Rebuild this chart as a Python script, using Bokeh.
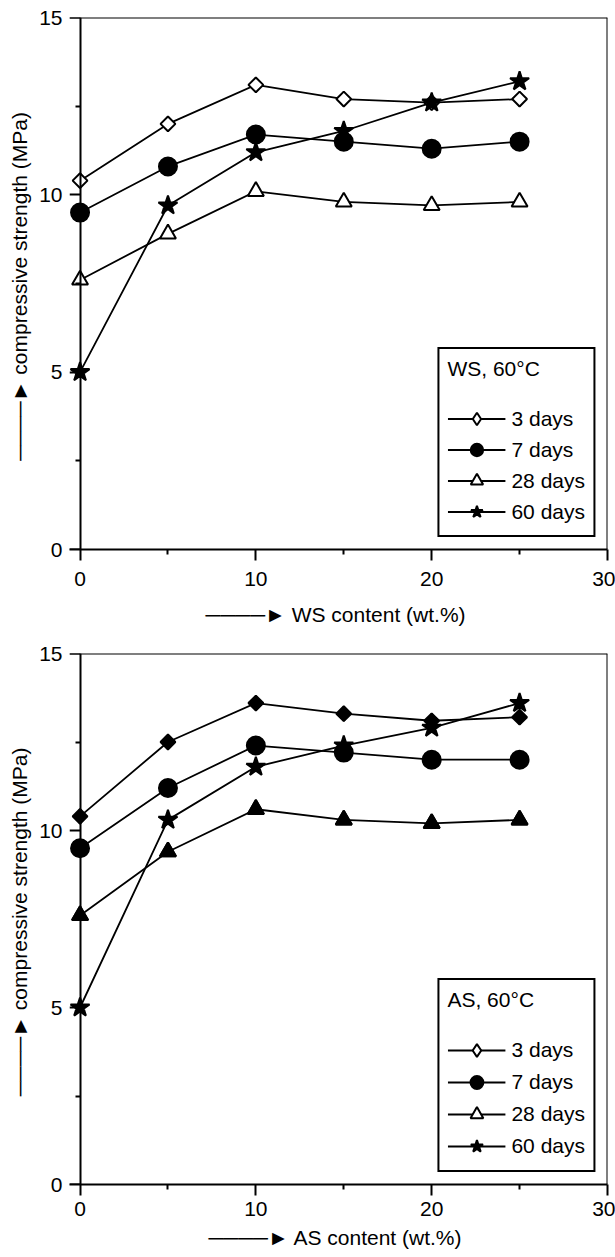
import math
from bokeh.plotting import figure
from bokeh.layouts import column
from bokeh.models import (FixedTicker, Legend, LegendItem, Range1d, Span, LinearAxis,
                          CustomJSTickFormatter)
from bokeh.embed import file_html
from bokeh.resources import INLINE

# ---- data ----
content = [0, 5, 10, 15, 20, 25]
series_labels = ["3 days", "7 days", "28 days", "60 days"]

ws_3d = [10.4, 12.0, 13.1, 12.7, 12.6, 12.7]
ws_7d = [9.5, 10.8, 11.7, 11.5, 11.3, 11.5]
ws_28d = [7.6, 8.9, 10.1, 9.8, 9.7, 9.8]
ws_60d = [5.0, 9.7, 11.2, 11.8, 12.6, 13.2]

as_3d = [10.4, 12.5, 13.6, 13.3, 13.1, 13.2]
as_7d = [9.5, 11.2, 12.4, 12.2, 12.0, 12.0]
as_28d = [7.6, 9.4, 10.6, 10.3, 10.2, 10.3]
as_60d = [5.0, 10.3, 11.8, 12.4, 12.9, 13.6]

x_ticks = [0, 10, 20, 30]
x_minor = [5, 15, 25]
y_ticks = [0, 5, 10, 15]
y_minor = [2.5, 7.5, 12.5]

FONT = "Liberation Sans"
ARROW = "\u2500\u2500\u2500\u2500\u25BA"
X_PAD = 0.6   # small room left of x = 0 so that markers on the axis are not cut

# marker styles: (marker, size, angle, filled)
DIAMOND_LEG = ("diamond", 14, 0, False)          # legend-only diamond (hidden under plotted diamond)
STYLE_OPEN = [("square", 10.5, math.pi / 4, False), ("circle", 18, 0, True),
              ("triangle", 16, 0, False), ("star", 20, 0, True)]
STYLE_SOLID = [("square", 10.5, math.pi / 4, True), ("circle", 18, 0, True),
               ("triangle", 16, 0, True), ("star", 20, 0, True)]


def style_axis(ax):
    ax.axis_line_color = "black"
    ax.axis_line_width = 2
    ax.major_tick_line_color = "black"
    ax.major_tick_line_width = 2
    ax.minor_tick_line_color = "black"
    ax.minor_tick_line_width = 2
    ax.major_tick_in = 0
    ax.major_tick_out = 11
    ax.minor_tick_in = 0
    ax.minor_tick_out = 5
    ax.major_label_text_font = FONT
    ax.major_label_text_font_size = "21px"
    ax.major_label_text_color = "black"
    ax.axis_label_text_font = FONT
    ax.axis_label_text_font_size = "21px"
    ax.axis_label_text_font_style = "normal"
    ax.axis_label_text_color = "black"


def make_panel(series, xlabel, title, plot_styles, width, height, mb_left, mb_right, mb_top, mb_bottom,
               xl_standoff, xa_standoff, pitch):
    p = figure(width=width, height=height, x_range=Range1d(-X_PAD, 30), y_range=Range1d(0, 15),
               output_backend="svg", toolbar_location=None,
               min_border_left=mb_left, min_border_right=mb_right,
               min_border_top=mb_top, min_border_bottom=mb_bottom)
    p.grid.visible = False
    p.background_fill_color = "white"
    p.border_fill_color = "white"
    p.outline_line_color = None

    xa = p.xaxis[0]
    style_axis(xa)
    xa.ticker = FixedTicker(ticks=x_ticks, minor_ticks=x_minor)
    xa.major_label_standoff = xl_standoff
    xa.axis_label = ARROW + "  " + xlabel
    xa.axis_label_standoff = xa_standoff

    # labels of the y axis (in the left panel)
    ya = p.yaxis[0]
    style_axis(ya)
    ya.ticker = FixedTicker(ticks=y_ticks, minor_ticks=y_minor)
    ya.axis_line_color = None
    ya.major_tick_line_color = None
    ya.minor_tick_line_color = None
    ya.major_tick_out = 0
    ya.minor_tick_out = 0
    ya.major_label_standoff = 7
    ya.axis_label = ARROW + "  compressive strength (MPa)"
    ya.axis_label_standoff = 5

    # line and ticks of the y axis, placed at x = 0
    ya2 = LinearAxis(fixed_location=0, ticker=FixedTicker(ticks=y_ticks, minor_ticks=y_minor),
                     formatter=CustomJSTickFormatter(code="return ''"))
    style_axis(ya2)
    p.add_layout(ya2, "left")

    # top and right frame lines
    p.add_layout(Span(location=15, dimension="width", line_color="black", line_width=2))
    p.add_layout(Span(location=30, dimension="height", line_color="black", line_width=2))

    items = []
    for i, (vals, lab, (mk, sz, ang, filled), (lmk, lsz, lang, lfilled)) in enumerate(zip(
            series, series_labels, plot_styles, STYLE_OPEN)):
        lr = p.line(content, vals, line_color="black", line_width=1.8)
        if i == 0:
            mr = p.scatter(content, vals, marker=DIAMOND_LEG[0], size=DIAMOND_LEG[1],
                           fill_color="white", line_color="black", line_width=2)
            p.scatter(content, vals, marker=mk, size=sz, angle=ang,
                      fill_color="black" if filled else "white",
                      line_color="black", line_width=2)
        else:
            mr = p.scatter(content, vals, marker=lmk, size=lsz, angle=lang,
                           fill_color="black" if lfilled else "white",
                           line_color="black", line_width=2)
            if filled != lfilled:
                p.scatter(content, vals, marker=mk, size=sz, angle=ang,
                          fill_color="black", line_color="black", line_width=2)
        items.append(LegendItem(label=lab, renderers=[lr, mr]))

    leg = Legend(items=items, location="bottom_right", title=title)
    leg.title_text_font = FONT
    leg.title_text_font_size = "21px"
    leg.title_text_font_style = "normal"
    leg.title_text_color = "black"
    leg.title_standoff = 22
    leg.label_text_font = FONT
    leg.label_text_font_size = "21px"
    leg.label_text_color = "black"
    leg.glyph_width = 58
    leg.glyph_height = pitch
    leg.label_height = pitch
    leg.spacing = 0
    leg.padding = 8
    leg.margin = 12
    leg.label_standoff = 6
    leg.border_line_color = "black"
    leg.border_line_width = 2
    leg.border_line_alpha = 1
    leg.background_fill_color = "white"
    leg.background_fill_alpha = 1
    p.add_layout(leg)
    return p


top = make_panel([ws_3d, ws_7d, ws_28d, ws_60d], "WS content (wt.%)", "WS, 60\u00b0C",
                 STYLE_OPEN, 615, 640, 67, 8, 17, 91, 11, 14, 31)
bottom = make_panel([as_3d, as_7d, as_28d, as_60d], "AS content (wt.%)", "AS, 60\u00b0C",
                    STYLE_SOLID, 615, 616, 69, 5, 13, 72, 6, 7, 32)

layout = column(top, bottom, spacing=0)
open("out.html", "w").write(file_html(layout, INLINE))
